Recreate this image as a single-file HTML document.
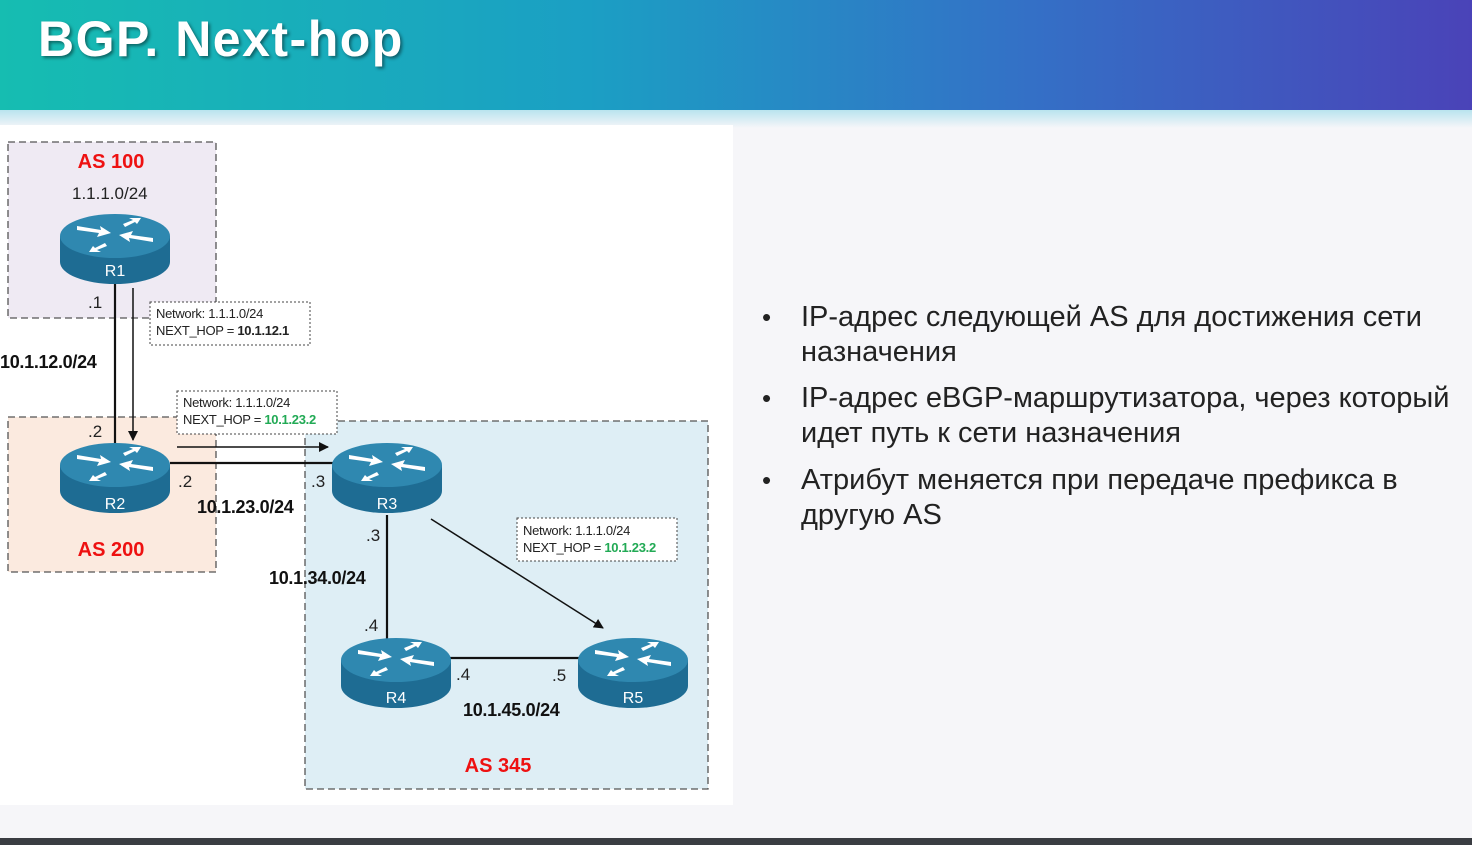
<!DOCTYPE html>
<html><head><meta charset="utf-8"><style>
body{margin:0;width:1472px;height:845px;overflow:hidden;background:#f6f6f9;font-family:"Liberation Sans",sans-serif;position:relative}
.hdr{position:absolute;left:0;top:0;width:1472px;height:110px;background:linear-gradient(90deg,#16bdb1 0%,#1b9fc4 40%,#3470c6 70%,#4a43b8 100%)}
.fade{position:absolute;left:0;top:110px;width:1472px;height:18px;background:linear-gradient(#b9e3ee,#f6f6f9)}
.title{position:absolute;left:38px;top:10px;color:#fff;font-size:50px;font-weight:bold;font-family:"Liberation Sans",sans-serif;text-shadow:2px 2px 3px rgba(0,0,0,.45);letter-spacing:1.5px}
.dia{position:absolute;left:0;top:125px;width:733px;height:680px;background:#fff}
.bul{position:absolute;left:762px;font-size:29px;color:#222;font-family:"Liberation Sans","DejaVu Sans",sans-serif;line-height:35px;white-space:nowrap}
.bul span{position:absolute;left:0;font-size:26px}
.bul div{margin-left:39px}
.bot{position:absolute;left:0;top:838px;width:1472px;height:7px;background:#3a3d42}
</style></head><body>
<div class="hdr"></div><div class="fade"></div>
<div class="title">BGP. Next-hop</div>
<div class="dia"></div>
<svg style="position:absolute;left:0;top:0" width="740" height="810" font-family="Liberation Sans, sans-serif">
<defs>
<marker id="ah" markerWidth="10" markerHeight="10" refX="9" refY="5" orient="auto" markerUnits="userSpaceOnUse"><path d="M0,0 L10,5 L0,10 z" fill="#111"/></marker>
<g id="rt">
<path d="M-55,0 L-55,26 A55,22 0 0 0 55,26 L55,0 z" fill="#1e6c93"/>
<ellipse cx="0" cy="0" rx="55" ry="22" fill="#2f88b0"/>
<g fill="#fff">
<path d="M-38,-10 L-14,-6 L-15,-10 L-4,-3 L-18,1 L-16,-3 L-38,-6z"/>
<path d="M38,6 L14,2 L15,6 L4,-1 L18,-5 L16,-1 L38,2z"/>
<path d="M8,-12 L18,-16 L14,-18 L26,-18 L22,-12 L20,-14 L10,-9z"/>
<path d="M-8,10 L-18,14 L-14,16 L-26,16 L-22,10 L-20,12 L-10,7z"/>
</g></g>
</defs>
<rect x="8" y="142" width="208" height="176" fill="#efeaf3" stroke="#555" stroke-width="1.3" stroke-dasharray="7,4"/>
<rect x="8" y="417" width="208" height="155" fill="#fbeadf" stroke="#555" stroke-width="1.3" stroke-dasharray="7,4"/>
<rect x="305" y="421" width="403" height="368" fill="#deeef5" stroke="#555" stroke-width="1.3" stroke-dasharray="7,4"/>
<g stroke="#111" stroke-width="2.2" fill="none">
<line x1="115" y1="284" x2="115" y2="445"/>
<line x1="170" y1="463" x2="335" y2="463"/>
<line x1="387" y1="515" x2="387" y2="640"/>
<line x1="450" y1="658" x2="580" y2="658"/>
</g>
<g stroke="#111" stroke-width="1.5">
<line x1="133" y1="288" x2="133" y2="440" marker-end="url(#ah)"/>
<line x1="177" y1="447" x2="328" y2="447" marker-end="url(#ah)"/>
<line x1="431" y1="519" x2="603" y2="628" marker-end="url(#ah)"/>
</g>
<use href="#rt" x="115" y="236"/><use href="#rt" x="115" y="465"/><use href="#rt" x="387" y="465"/><use href="#rt" x="396" y="660"/><use href="#rt" x="633" y="660"/>
<g fill="#fff" font-size="16" text-anchor="middle"><text x="115" y="276">R1</text><text x="115" y="509">R2</text><text x="387" y="509">R3</text><text x="396" y="703">R4</text><text x="633" y="703">R5</text></g>
<g fill="#ee1111" font-size="20" font-weight="bold" text-anchor="middle"><text x="111" y="168">AS 100</text><text x="111" y="556">AS 200</text><text x="498" y="772">AS 345</text></g>
<g fill="#222" font-size="17"><text x="72" y="199">1.1.1.0/24</text>
<text x="88" y="308">.1</text><text x="88" y="437">.2</text><text x="178" y="487">.2</text><text x="311" y="487">.3</text><text x="366" y="541">.3</text><text x="364" y="631">.4</text><text x="456" y="680">.4</text><text x="552" y="681">.5</text></g>
<g fill="#111" font-size="18" font-weight="bold" letter-spacing="-0.3"><text x="0" y="368">10.1.12.0/24</text><text x="197" y="513">10.1.23.0/24</text><text x="269" y="584">10.1.34.0/24</text><text x="463" y="716">10.1.45.0/24</text></g>
<g font-size="13" fill="#222" letter-spacing="-0.3">
<rect x="150" y="302" width="160" height="43" fill="#fff" stroke="#444" stroke-dasharray="2,2"/>
<text x="156" y="318">Network: 1.1.1.0/24</text><text x="156" y="335">NEXT_HOP = <tspan font-weight="bold">10.1.12.1</tspan></text>
<rect x="177" y="391" width="160" height="43" fill="#fff" stroke="#444" stroke-dasharray="2,2"/>
<text x="183" y="407">Network: 1.1.1.0/24</text><text x="183" y="424">NEXT_HOP = <tspan font-weight="bold" fill="#22aa55">10.1.23.2</tspan></text>
<rect x="517" y="518" width="160" height="43" fill="#fff" stroke="#444" stroke-dasharray="2,2"/>
<text x="523" y="535">Network: 1.1.1.0/24</text><text x="523" y="552">NEXT_HOP = <tspan font-weight="bold" fill="#22aa55">10.1.23.2</tspan></text>
</g>
</svg>
<div class="bul" style="top:300px"><span>•</span><div>IP-адрес следующей AS для достижения сети<br>назначения</div></div>
<div class="bul" style="top:381px"><span>•</span><div>IP-адрес eBGP-маршрутизатора, через который<br>идет путь к сети назначения</div></div>
<div class="bul" style="top:463px"><span>•</span><div>Атрибут меняется при передаче префикса в<br>другую AS</div></div>
<div class="bot"></div>
</body></html>
